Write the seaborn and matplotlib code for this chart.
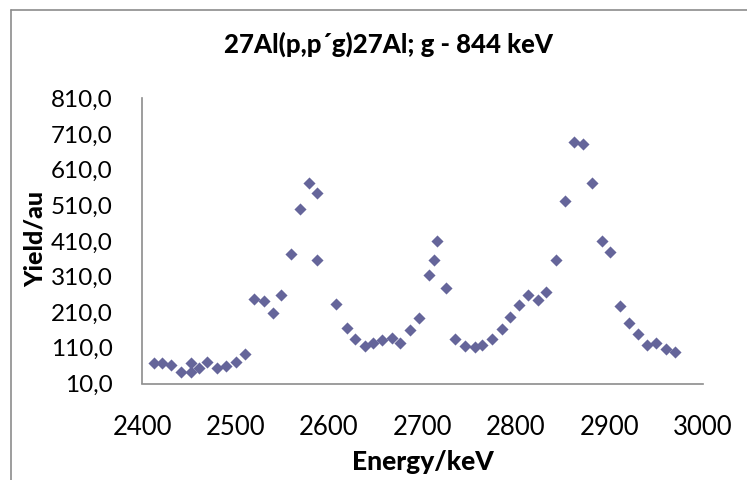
import numpy as np
import pandas as pd
import matplotlib
matplotlib.use("Agg")
import matplotlib.pyplot as plt
import seaborn as sns
from matplotlib.lines import Line2D

energy = [2413, 2421, 2431, 2442, 2452, 2452, 2461, 2470, 2480, 2490, 2500, 2510,
          2520, 2530, 2540, 2549, 2559, 2569, 2579, 2587, 2587, 2608, 2619, 2628,
          2638, 2647, 2657, 2667, 2676, 2687, 2696, 2707, 2712, 2716, 2725, 2735,
          2745, 2756, 2764, 2774, 2785, 2794, 2803, 2813, 2824, 2832, 2843, 2852,
          2862, 2872, 2881, 2892, 2901, 2911, 2921, 2931, 2940, 2950, 2960, 2970]
yield_au = [67, 67, 62, 43, 67, 43, 53, 71, 53, 59, 70, 93,
            247, 242, 207, 257, 373, 498, 571, 545, 356, 232, 165, 135,
            115, 123, 132, 138, 124, 160, 195, 314, 356, 410, 277, 136,
            115, 112, 118, 134, 162, 197, 231, 258, 244, 267, 356, 522,
            686, 681, 571, 410, 380, 228, 179, 148, 118, 123, 106, 98]

x_ticks = [2400, 2500, 2600, 2700, 2800, 2900, 3000]
y_ticks = [10, 110, 210, 310, 410, 510, 610, 710, 810]
y_tick_labels = ["10,0", "110,0", "210,0", "310,0", "410,0", "510,0", "610,0", "710,0", "810,0"]

title = "27Al(p,p´g)27Al; g - 844 keV"
xlabel = "Energy/keV"
ylabel = "Yield/au"

sns.set_theme(style="white")
plt.rcParams['font.family'] = ['Lato', 'DejaVu Sans']

df = pd.DataFrame({"Energy": energy, "Yield": yield_au})

W, H = 747, 480
fig = plt.figure(figsize=(W/100, H/100), dpi=100)
ax = fig.add_axes([142/W, 1-383.5/H, (703-142)/W, (383.5-98.2)/H])

sns.scatterplot(data=df, x="Energy", y="Yield", marker="D", s=38, color="#65659A",
                linewidth=0, ax=ax, legend=False)

ax.set_xlim(2400, 3000)
ax.set_ylim(10, 810)
ax.set_xticks(x_ticks)
ax.set_xticklabels([str(t) for t in x_ticks])
ax.set_yticks(y_ticks)
ax.set_yticklabels(y_tick_labels)

for s in ["top", "right"]:
    ax.spines[s].set_visible(False)
for s in ["left", "bottom"]:
    ax.spines[s].set_color("#8c8c8c")
    ax.spines[s].set_linewidth(1.2)
ax.tick_params(axis="both", direction="out", length=6, width=1.2, color="#8c8c8c",
               labelcolor="black")
ax.tick_params(axis="x", pad=17, labelsize=18.5)
ax.tick_params(axis="y", pad=15, labelsize=17.5)
ax.grid(False)
ax.set_xlabel("")
ax.set_ylabel("")

fig.text(423/W, 1-470/H, xlabel, ha="center", va="baseline", fontsize=19,
         fontweight="black", color="black")
fig.text(35/W, 1-239/H, ylabel, ha="center", va="center", rotation=90, fontsize=18,
         fontweight="black", color="black")
fig.text(389/W, 1-53/H, title, ha="center", va="baseline", fontsize=18.5,
         fontweight="black", color="black")

# chart border (left and top edges visible)
fig.add_artist(Line2D([11/W, 11/W], [0, 1-10/H], transform=fig.transFigure,
                      color="#8c8c8c", linewidth=1.2))
fig.add_artist(Line2D([11/W, 1], [1-10/H, 1-10/H], transform=fig.transFigure,
                      color="#8c8c8c", linewidth=1.2))

fig.savefig("out.png", dpi=100)
